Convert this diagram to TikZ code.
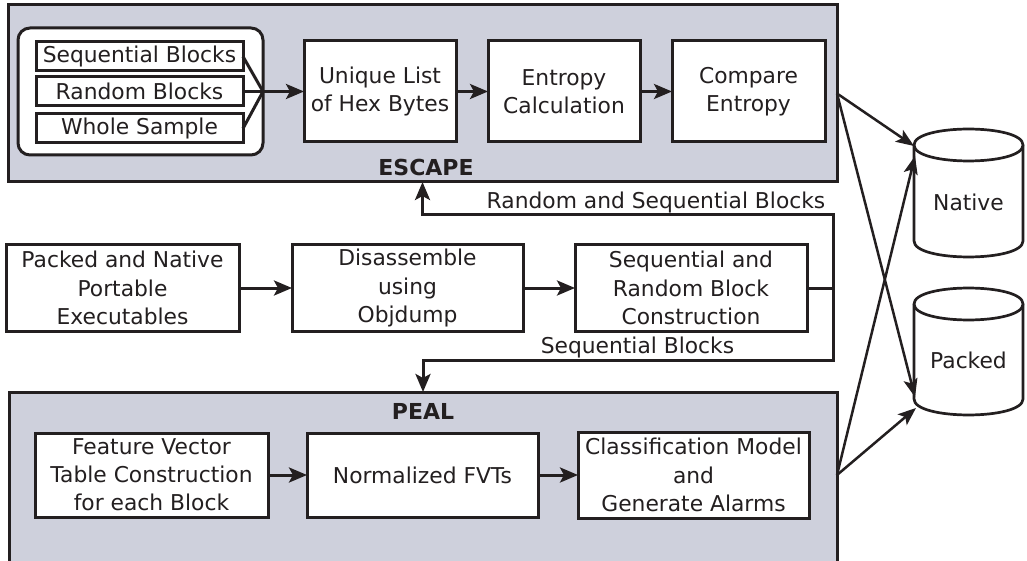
\documentclass[tikz,border=0pt]{standalone}
\usepackage{fontspec}
\setmainfont{DejaVu Sans}
\usetikzlibrary{arrows.meta}
\definecolor{panel}{RGB}{206,208,220}
\definecolor{ink}{RGB}{35,31,32}
\begin{document}
\begin{tikzpicture}[x=1pt,y=-1pt,
  every node/.style={font=\fontsize{21.8}{28.2}\selectfont, text=ink, outer sep=0pt, inner sep=0pt},
  panelbox/.style={draw=ink, fill=panel, line width=3pt},
  box/.style={draw=ink, fill=white, line width=3pt, align=center},
  lbl/.style={font=\fontsize{22}{26}\selectfont\bfseries},
  conn/.style={draw=ink, line width=3pt},
  arr/.style={draw=ink, line width=3pt, -{Stealth[length=18pt,width=15pt,inset=4pt]}},
  thinarr/.style={draw=ink, line width=2.5pt, -{Stealth[length=18pt,width=14pt,inset=4pt]}},
  cyl/.style={draw=ink, fill=white, line width=2.7pt}]
\useasboundingbox (0,0) rectangle (1027,561);

% panels
\node[panelbox, minimum width=829pt, minimum height=177pt] (escape) at (422.5,93.5) {};
\node[panelbox, minimum width=828pt, minimum height=188pt] (peal) at (423,486) {};
\node[lbl] (esclbl) at (426,167) {ESCAPE};
\node[lbl] (peallbl) at (423,411) {PEAL};

% ESCAPE contents
\node[box, rounded corners=12pt, minimum width=245pt, minimum height=127pt] (inner) at (140.5,91.5) {};
\node[box, minimum width=207pt, minimum height=29pt] (seq) at (139.5,56.5) {Sequential Blocks};
\node[box, minimum width=207pt, minimum height=29pt] (rnd) at (139.5,91.5) {Random Blocks};
\node[box, minimum width=207pt, minimum height=29pt] (whole) at (139.5,128.5) {Whole Sample};
\node[box, minimum width=152pt, minimum height=101pt] (unique) at (380,91.5) {Unique List\\of Hex Bytes};
\node[box, minimum width=152pt, minimum height=101pt] (entropy) at (564,91.5) {Entropy\\Calculation};
\node[box, minimum width=153pt, minimum height=101pt] (compare) at (748.5,91.5) {Compare\\Entropy};

\coordinate (merge) at (inner.east);
\draw[conn] (seq.east) -- (merge);
\draw[conn] (whole.east) -- (merge);
\draw[conn] (rnd.east) -- (merge);
\draw[arr] (merge) -- (unique.west);
\draw[arr] (unique.east) -- (entropy.west);
\draw[arr] (entropy.east) -- (compare.west);

% middle row
\node[box, minimum width=233pt, minimum height=86pt] (pe) at (122.5,288) {Packed and Native\\Portable\\Executables};
\node[box, minimum width=231pt, minimum height=86pt] (dis) at (407.5,288) {Disassemble\\using\\Objdump};
\node[box, minimum width=232pt, minimum height=86pt] (srbc) at (691,288) {Sequential and\\Random Block\\Construction};
\draw[arr] (pe.east) -- (dis.west);
\draw[arr] (dis.east) -- (srbc.west);

\coordinate (jn) at (833,288);
\coordinate (tturn) at (escape.south |- 0,215);
\coordinate (bturn) at (peal.north |- 0,360.5);
\draw[conn] (srbc.east) -- (jn);
\draw[arr] (jn) |- (tturn) -- (escape.south);
\draw[arr] (jn) |- (bturn) -- (peal.north);
\node (rsb) at (656,202) {Random and Sequential Blocks};
\node (sb) at (637.5,347) {Sequential Blocks};

% PEAL contents
\node[box, minimum width=233pt, minimum height=84pt] (fvt) at (151.5,475) {Feature Vector\\Table Construction\\for each Block};
\node[box, minimum width=231pt, minimum height=84pt] (norm) at (422.5,475) {Normalized FVTs};
\node[box, minimum width=231pt, minimum height=86pt] (clf) at (693.5,475) {Classification Model\\and\\Generate Alarms};
\draw[arr] (fvt.east) -- (norm.west);
\draw[arr] (norm.east) -- (clf.west);

% cylinders
\draw[cyl] (914,145) -- (914,241) .. controls (914,262.3) and (1023,262.3) .. (1023,241) -- (1023,145)
  .. controls (1023,123.7) and (914,123.7) .. (914,145) -- cycle;
\draw[cyl] (914,145) .. controls (914,166.3) and (1023,166.3) .. (1023,145);
\draw[cyl] (914,304) -- (914,399) .. controls (914,420.3) and (1023,420.3) .. (1023,399) -- (1023,304)
  .. controls (1023,282.7) and (914,282.7) .. (914,304) -- cycle;
\draw[cyl] (914,304) .. controls (914,325.3) and (1023,325.3) .. (1023,304);
\node (native) at (968.5,202) {Native};
\node (packed) at (968.5,360) {Packed};

\coordinate (natA) at (914,146);
\coordinate (natB) at (915,156);
\coordinate (pakA) at (915,397);
\coordinate (pakB) at (916,408);
\coordinate (pout) at (peal.east |- clf.east);
\draw[thinarr] (escape.east) -- (natA);
\draw[thinarr] (escape.east) -- (pakA);
\draw[thinarr] (pout) -- (natB);
\draw[thinarr] (pout) -- (pakB);
\end{tikzpicture}
\end{document}
